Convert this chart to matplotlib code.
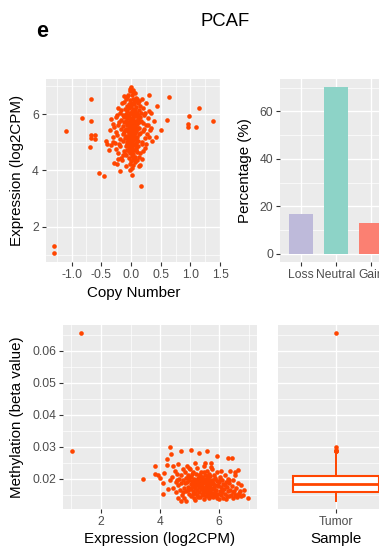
import matplotlib
matplotlib.use("Agg")
import matplotlib.pyplot as plt
from matplotlib.ticker import MultipleLocator, FixedLocator
import numpy as np

# ---------------- data ----------------
copy_number = [
    0.00, -0.02, 0.03, 0.06, -0.05, 0.01, 0.09, -0.08, 0.04, -0.02,
    0.07, -0.11, 0.02, 0.12, -0.04, 0.05, -0.07, 0.00, 0.09, -0.03,
    0.04, -0.10, 0.13, 0.01, -0.06, 0.07, -0.01, 0.10, -0.09, 0.03,
    -0.04, 0.06, -0.12, 0.00, 0.11, -0.06, 0.04, -0.02, 0.08, -0.09,
    0.02, 0.14, -0.04, 0.06, -0.01, 0.10, -0.07, 0.03, -0.13, 0.01,
    0.07, -0.03, 0.12, -0.08, 0.04, -0.01, 0.09, -0.05, 0.02, -0.11,
    0.06, 0.00, 0.13, -0.04, 0.05, -0.08, 0.02, 0.10, -0.02, -0.10,
    0.07, 0.01, -0.05, 0.04, 0.11, -0.03, 0.00, -0.07, 0.08, 0.03,
    -0.01, 0.06, -0.09, 0.02, -0.04, 0.09, 0.00, 0.05, -0.06, 0.02,
    0.10, -0.02, 0.04, -0.08, 0.01, 0.07, -0.03, 0.03, 0.00, 0.06,
    -0.01, 0.04, 0.02, -0.02,
    0.02, -0.06, 0.05, -0.02, 0.08, -0.03, 0.04, 0.09, -0.07, 0.11,
    0.00, 0.03, -0.10, 0.06, -0.04, 0.01, 0.07, -0.05, 0.12, -0.01,
    -0.21, -0.17, -0.13, -0.23, -0.19, -0.14, -0.11, -0.16, -0.09, -0.13,
    0.14, 0.16, 0.13, 0.19, 0.15, 0.21, 0.12, 0.17, 0.13, 0.22,
    -0.06, 0.05, -0.03, 0.08, -0.10, 0.03, -0.07, 0.10, -0.02, 0.06,
    -0.24, -0.31, -0.27, -0.21, 0.24, 0.29, 0.20, 0.26, -0.33, 0.31,
    -0.28, -0.25, -0.22, -0.20, -0.18, -0.30, -0.33, -0.26, -0.22, -0.17,
    -0.28, -0.24, -0.37, -0.40, -0.15, -0.19, -0.25, -0.16, -0.14, -0.30,
    -0.20, -0.12, -0.15, -0.35, -0.42, -0.12, 0.18, 0.20, 0.22, 0.17,
    0.25, 0.20, 0.23, 0.18, 0.16, 0.19, 0.28, 0.27, 0.30, 0.15,
    0.24, 0.33, 0.38, 0.36, 0.15, 0.26, -0.08, 0.10,
    -1.10, -0.68, -0.82, -0.68, -0.68, -0.68, -0.60, -0.60, -0.69, -0.53,
    -0.46, -0.18, 0.01, 0.17, 0.14, 0.31, 0.64, 1.15, 0.98, 1.38,
    0.96, 0.96, 1.09, 0.61, 0.50, 0.42, 0.43, 0.34, 0.32, -1.30,
    -1.30,
]
expression_cn = [
    6.95, 6.81, 6.77, 6.74, 6.69, 6.66, 6.58, 6.61, 6.53, 6.49,
    6.47, 6.43, 6.41, 6.39, 6.34, 6.35, 6.29, 6.27, 6.26, 6.21,
    6.19, 6.17, 6.16, 6.12, 6.11, 6.07, 6.04, 6.02, 6.01, 5.97,
    5.96, 5.92, 5.91, 5.87, 5.85, 5.85, 5.81, 5.79, 5.77, 5.76,
    5.73, 5.71, 5.70, 5.67, 5.65, 5.63, 5.62, 5.59, 5.57, 5.56,
    5.53, 5.52, 5.49, 5.47, 5.46, 5.43, 5.41, 5.40, 5.37, 5.36,
    5.33, 5.31, 5.29, 5.28, 5.25, 5.23, 5.22, 5.19, 5.17, 5.16,
    5.13, 5.11, 5.09, 5.07, 5.06, 5.03, 5.01, 4.99, 4.97, 4.95,
    4.92, 4.91, 4.87, 4.84, 4.83, 4.79, 4.76, 4.73, 4.72, 4.67,
    4.64, 4.61, 4.59, 4.54, 4.51, 4.49, 4.44, 4.41, 4.34, 4.31,
    4.24, 4.19, 4.09, 4.03,
    6.05, 5.65, 5.97, 5.58, 5.45, 5.35, 5.15, 5.10, 5.90, 5.80,
    5.50, 5.70, 5.45, 6.15, 6.25, 5.00, 5.60, 5.20, 5.95, 6.35,
    5.62, 5.48, 5.95, 5.25, 4.85, 5.05, 5.72, 6.15, 6.52, 4.55,
    5.52, 5.88, 6.48, 5.02, 5.32, 5.68, 4.88, 6.02, 4.48, 5.48,
    4.95, 4.42, 4.68, 4.72, 4.58, 6.85, 6.62, 6.55, 6.90, 6.48,
    5.98, 5.65, 4.98, 4.40, 6.05, 5.62, 4.70, 4.95, 5.82, 5.20,
    5.55, 5.35, 6.20, 5.70, 5.10, 5.00, 4.90, 4.75, 4.60, 4.45,
    4.25, 4.22, 4.72, 4.95, 6.40, 6.05, 5.90, 5.80, 5.30, 5.20,
    4.95, 4.70, 4.35, 5.45, 5.05, 6.65, 6.55, 6.20, 5.95, 5.75,
    5.60, 5.40, 5.15, 4.95, 4.62, 4.40, 5.85, 5.30, 6.10, 6.30,
    4.80, 5.50, 5.75, 5.05, 4.20, 6.40, 4.15, 4.35,
    5.39, 6.54, 5.85, 5.74, 5.24, 5.15, 5.25, 5.12, 4.84, 3.90,
    3.79, 3.98, 3.84, 3.44, 4.16, 6.67, 6.59, 6.23, 5.94, 5.74,
    5.66, 5.54, 5.53, 5.78, 5.42, 5.19, 6.30, 6.04, 5.42, 1.33,
    1.05,
]

cnv_categories = ["Loss", "Neutral", "Gain"]
cnv_percentage = [16.8, 70.2, 12.9]
cnv_colors = ["#BEBADA", "#8DD3C7", "#FB8072"]

expression_meth = [
    1.02, 1.33, 3.41, 3.82, 3.81, 3.93, 4.00, 4.09, 4.08, 4.34,
    4.38, 4.24, 4.71, 4.69, 4.88, 5.04, 5.31, 5.58, 5.92, 6.29,
    6.44, 6.52, 6.97, 6.67, 5.18, 5.52, 5.73, 4.45,
    4.40, 4.45, 4.50, 4.52, 4.55, 4.58, 4.60, 4.62, 4.65, 4.66,
    4.70, 4.72, 4.74, 4.76, 4.78, 4.80, 4.82, 4.84, 4.86, 4.88,
    4.90, 4.92, 4.94, 4.95, 4.97, 4.98, 5.00, 5.01, 5.03, 5.05,
    5.06, 5.08, 5.10, 5.11, 5.12, 5.14, 5.15, 5.16, 5.18, 5.19,
    5.20, 5.22, 5.23, 5.24, 5.25, 5.26, 5.28, 5.29, 5.30, 5.31,
    5.32, 5.34, 5.35, 5.36, 5.37, 5.38, 5.40, 5.41, 5.42, 5.43,
    5.45, 5.46, 5.47, 5.48, 5.49, 5.50, 5.51, 5.52, 5.53, 5.54,
    5.55, 5.56, 5.57, 5.58, 5.59, 5.60, 5.61, 5.62, 5.63, 5.64,
    5.65, 5.66, 5.67, 5.68, 5.69, 5.70, 5.72, 5.73, 5.74, 5.75,
    5.76, 5.78, 5.79, 5.80, 5.82, 5.83, 5.84, 5.86, 5.87, 5.88,
    5.90, 5.92, 5.93, 5.95, 5.96, 5.98, 6.00, 6.02, 6.04, 6.05,
    6.07, 6.09, 6.10, 6.12, 6.14, 6.16, 6.18, 6.20, 6.22, 6.24,
    6.26, 6.28, 6.30, 6.32, 6.34, 6.36, 6.38, 6.40, 6.42, 6.45,
    6.48, 6.50, 6.52, 6.55, 6.58, 6.60, 6.62, 6.65, 6.70, 6.72,
    4.13, 4.23, 4.33, 4.28, 6.80, 6.85, 6.62, 6.75,
    5.05, 5.12, 5.22, 5.27, 5.33, 5.39, 5.44, 5.48, 5.53, 5.58,
    5.62, 5.67, 5.71, 5.77, 5.81, 5.85, 5.91, 5.97, 6.03, 6.11,
    4.93, 4.99, 4.85, 4.79, 5.17, 5.36, 5.63, 5.47, 5.28, 5.09,
    6.19, 6.27, 6.33, 6.46, 6.57, 4.62, 4.57, 4.96, 5.71, 6.06,
]
methylation = [
    0.0287, 0.0655, 0.0198, 0.0238, 0.0215, 0.0212, 0.0201, 0.0186, 0.0152, 0.0300,
    0.0278, 0.0262, 0.0285, 0.0131, 0.0131, 0.0289, 0.0279, 0.0288, 0.0271, 0.0263,
    0.0266, 0.0222, 0.0138, 0.0156, 0.0248, 0.0250, 0.0248, 0.0240,
    0.0205, 0.0172, 0.0225, 0.0190, 0.0158, 0.0215, 0.0180, 0.0245, 0.0198, 0.0165,
    0.0210, 0.0185, 0.0150, 0.0230, 0.0195, 0.0172, 0.0140, 0.0220, 0.0203, 0.0160,
    0.0240, 0.0188, 0.0175, 0.0212, 0.0152, 0.0196, 0.0230, 0.0168, 0.0183, 0.0145,
    0.0205, 0.0192, 0.0160, 0.0222, 0.0178, 0.0138, 0.0200, 0.0186, 0.0170, 0.0155,
    0.0215, 0.0193, 0.0180, 0.0148, 0.0232, 0.0165, 0.0202, 0.0187, 0.0175, 0.0158,
    0.0210, 0.0142, 0.0195, 0.0183, 0.0168, 0.0220, 0.0152, 0.0190, 0.0176, 0.0205,
    0.0162, 0.0185, 0.0198, 0.0135, 0.0172, 0.0240, 0.0188, 0.0158, 0.0212, 0.0178,
    0.0145, 0.0196, 0.0182, 0.0166, 0.0225, 0.0150, 0.0203, 0.0188, 0.0170, 0.0138,
    0.0215, 0.0178, 0.0193, 0.0160, 0.0148, 0.0208, 0.0184, 0.0172, 0.0155, 0.0230,
    0.0195, 0.0168, 0.0142, 0.0186, 0.0212, 0.0175, 0.0158, 0.0200, 0.0181, 0.0145,
    0.0165, 0.0192, 0.0220, 0.0152, 0.0178, 0.0135, 0.0188, 0.0162, 0.0205, 0.0148,
    0.0175, 0.0195, 0.0158, 0.0140, 0.0182, 0.0168, 0.0210, 0.0152, 0.0190, 0.0136,
    0.0175, 0.0160, 0.0200, 0.0145, 0.0185, 0.0225, 0.0165, 0.0150, 0.0178, 0.0138,
    0.0195, 0.0160, 0.0148, 0.0210, 0.0172, 0.0142, 0.0185, 0.0150, 0.0162, 0.0145,
    0.0219, 0.0243, 0.0195, 0.0168, 0.0150, 0.0165, 0.0228, 0.0180,
    0.0172, 0.0153, 0.0195, 0.0142, 0.0178, 0.0200, 0.0148, 0.0192, 0.0165, 0.0208,
    0.0158, 0.0175, 0.0145, 0.0190, 0.0152, 0.0202, 0.0140, 0.0180, 0.0198, 0.0165,
    0.0163, 0.0205, 0.0185, 0.0158, 0.0132, 0.0212, 0.0198, 0.0222, 0.0188, 0.0215,
    0.0180, 0.0145, 0.0195, 0.0158, 0.0150, 0.0140, 0.0195, 0.0232, 0.0235, 0.0225,
]
sample_label = ["Tumor"]

assert len(copy_number) == len(expression_cn)
assert len(expression_meth) == len(methylation)

# ---------------- style ----------------
plt.rcParams["font.family"] = ["Liberation Sans", "DejaVu Sans"]
plt.rcParams["axes.unicode_minus"] = False

W, H = 379, 553
fig = plt.figure(figsize=(W / 100, H / 100), dpi=100)

PANEL = "#EBEBEB"
POINT = "#FF4500"
TICKC = "#333333"
LABC = "#4D4D4D"
TICK_FS = 8.7
TITLE_FS = 10.9


def axes_px(l, t, r, b):
    return fig.add_axes([l / W, 1 - b / H, (r - l) / W, (b - t) / H])


def style(ax):
    ax.set_facecolor(PANEL)
    for s in ax.spines.values():
        s.set_visible(False)
    ax.set_axisbelow(True)
    ax.grid(which="major", color="white", lw=0.95)
    ax.grid(which="minor", color="white", lw=0.5)
    ax.tick_params(which="major", length=3, width=0.8, color=TICKC,
                   labelcolor=LABC, labelsize=TICK_FS, pad=2.0)
    ax.tick_params(which="minor", length=0)


def expand(vals, frac=0.05):
    lo, hi = min(vals), max(vals)
    d = (hi - lo) * frac
    return lo - d, hi + d


def px_to_axes(ax, xpx, ypx):
    return ax.transAxes.inverted().transform((xpx, H - ypx))


def set_xlabel_px(ax, text, xpx, ybase):
    ax.set_xlabel(text, fontsize=TITLE_FS, color="black")
    ax.xaxis.set_label_coords(*px_to_axes(ax, xpx, ybase))
    ax.xaxis.label.set_verticalalignment("baseline")


def set_ylabel_px(ax, text, xbase, ypx):
    ax.set_ylabel(text, fontsize=TITLE_FS, color="black")
    ax.yaxis.set_label_coords(*px_to_axes(ax, xbase, ypx))
    ax.yaxis.label.set_verticalalignment("baseline")
    ax.yaxis.label.set_rotation_mode("anchor")


# ---------------- headers ----------------
fig.text(42.5 / W, 1 - 36.7 / H, "e", fontsize=15.5, fontweight="bold",
         ha="center", va="baseline")
fig.text(225 / W, 1 - 25.7 / H, "PCAF", fontsize=13.3, ha="center", va="baseline")

# ---------------- panel 1: copy number vs expression ----------------
ax1 = axes_px(45.7, 79, 221, 261.7)
style(ax1)
ax1.scatter(copy_number, expression_cn, s=11, c=POINT, linewidths=0, zorder=3)
ax1.set_xlim(*expand(copy_number))
ax1.set_ylim(*expand(expression_cn))
ax1.xaxis.set_major_locator(FixedLocator([-1.0, -0.5, 0.0, 0.5, 1.0, 1.5]))
ax1.xaxis.set_minor_locator(MultipleLocator(0.25))
ax1.set_xticklabels(["-1.0", "-0.5", "0.0", "0.5", "1.0", "1.5"])
ax1.yaxis.set_major_locator(MultipleLocator(2))
ax1.yaxis.set_minor_locator(MultipleLocator(1))
set_xlabel_px(ax1, "Copy Number", 133.4, 296.7)
set_ylabel_px(ax1, "Expression (log2CPM)", 20.7, 170.4)

# ---------------- panel 2: CNV percentage ----------------
ax2 = axes_px(280, 79, 392, 262)
style(ax2)
pos = np.arange(1, len(cnv_categories) + 1)
ax2.bar(pos, cnv_percentage, width=0.7, color=cnv_colors, zorder=3)
ax2.set_xlim(0.4, len(cnv_categories) + 0.6)
ax2.set_ylim(-0.05 * max(cnv_percentage), 1.05 * max(cnv_percentage))
ax2.set_xticks(pos)
ax2.set_xticklabels(cnv_categories)
ax2.yaxis.set_major_locator(MultipleLocator(20))
ax2.yaxis.set_minor_locator(MultipleLocator(10))
set_ylabel_px(ax2, "Percentage (%)", 249.3, 170.5)

# ---------------- panel 3: expression vs methylation ----------------
ax3 = axes_px(63.3, 325, 256.7, 509)
style(ax3)
ax3.scatter(expression_meth, methylation, s=11, c=POINT, linewidths=0, zorder=3)
ax3.set_xlim(*expand(expression_meth))
meth_lim = expand(methylation)
ax3.set_ylim(*meth_lim)
ax3.xaxis.set_major_locator(MultipleLocator(2))
ax3.xaxis.set_minor_locator(MultipleLocator(1))
ax3.yaxis.set_major_locator(FixedLocator([0.02, 0.03, 0.04, 0.05, 0.06]))
ax3.yaxis.set_minor_locator(FixedLocator([0.015, 0.025, 0.035, 0.045, 0.055, 0.065]))
ax3.set_yticklabels(["0.02", "0.03", "0.04", "0.05", "0.06"])
set_xlabel_px(ax3, "Expression (log2CPM)", 160, 542.7)
set_ylabel_px(ax3, "Methylation (beta value)", 20.7, 417)

# ---------------- panel 4: methylation boxplot ----------------
ax4 = axes_px(278.3, 325, 393, 509)
style(ax4)
ax4.boxplot([methylation], positions=[1], widths=0.9, patch_artist=True,
            whis=1.5,
            boxprops=dict(facecolor="white", edgecolor=POINT, linewidth=1.5),
            medianprops=dict(color=POINT, linewidth=2.0),
            whiskerprops=dict(color=POINT, linewidth=1.4),
            capprops=dict(linewidth=0),
            flierprops=dict(marker="o", markerfacecolor=POINT,
                            markeredgecolor="none", markersize=3.3),
            zorder=3)
ax4.set_xlim(0.4, 1.6)
ax4.set_ylim(*meth_lim)
ax4.set_xticks([1])
ax4.set_xticklabels(sample_label)
ax4.yaxis.set_major_locator(FixedLocator([0.02, 0.03, 0.04, 0.05, 0.06]))
ax4.yaxis.set_minor_locator(FixedLocator([0.015, 0.025, 0.035, 0.045, 0.055, 0.065]))
ax4.tick_params(axis="y", which="both", length=0, labelleft=False)
set_xlabel_px(ax4, "Sample", 335.7, 543)

fig.savefig("out.png", dpi=100)
